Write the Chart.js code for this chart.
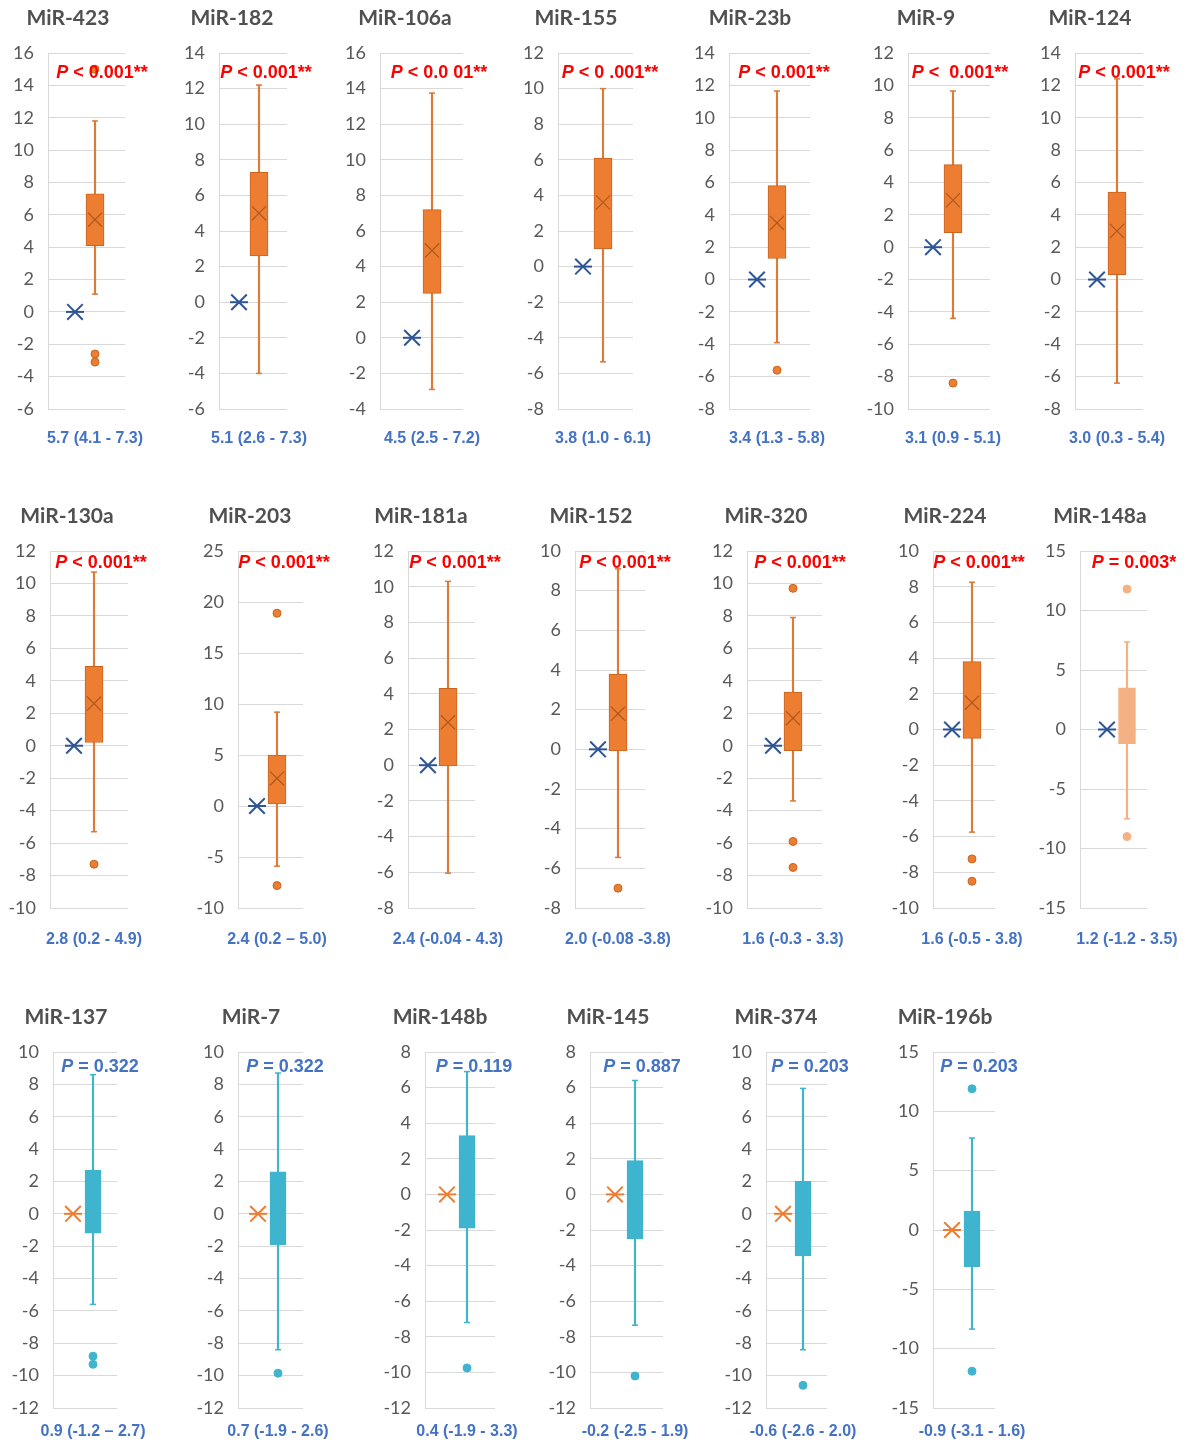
<!DOCTYPE html>
<html>
<head>
<meta charset="utf-8">
<script src="https://cdn.jsdelivr.net/npm/chart.js"></script>
<style>
  body { margin: 0; background: #fff; }
  #wrap { position: relative; width: 1197px; height: 1445px; overflow: hidden; }
  #wrap canvas { position: absolute; }
</style>
</head>
<body>
<div id="wrap"></div>
<script>
// miRNA panels, in reading order
const names = ['MiR-423', 'MiR-182', 'MiR-106a', 'MiR-155', 'MiR-23b', 'MiR-9', 'MiR-124',
    'MiR-130a', 'MiR-203', 'MiR-181a', 'MiR-152', 'MiR-320', 'MiR-224', 'MiR-148a',
    'MiR-137', 'MiR-7', 'MiR-148b', 'MiR-145', 'MiR-374', 'MiR-196b'];

// text after the italic "P"
const pTexts = ['< 0.001**', '< 0.001**', '< 0.0 01**', '< 0 .001**', '< 0.001**', '<  0.001**', '< 0.001**',
    '< 0.001**', '< 0.001**', '< 0.001**', '< 0.001**', '< 0.001**', '< 0.001**', '= 0.003*',
    '= 0.322', '= 0.322', '= 0.119', '= 0.887', '= 0.203', '= 0.203'];

// median (IQR) under each panel
const medianIqr = ['5.7 (4.1 - 7.3)', '5.1 (2.6 - 7.3)', '4.5 (2.5 - 7.2)', '3.8 (1.0 - 6.1)', '3.4 (1.3 - 5.8)', '3.1 (0.9 - 5.1)', '3.0 (0.3 - 5.4)',
    '2.8 (0.2 - 4.9)', '2.4 (0.2 \u2013 5.0)', '2.4 (-0.04 - 4.3)', '2.0 (-0.08 -3.8)', '1.6 (-0.3 - 3.3)', '1.6 (-0.5 - 3.8)', '1.2 (-1.2 - 3.5)',
    '0.9 (-1.2 \u2013 2.7)', '0.7 (-1.9 - 2.6)', '0.4 (-1.9 - 3.3)', '-0.2 (-2.5 - 1.9)', '-0.6 (-2.6 - 2.0)', '-0.9 (-3.1 - 1.6)'];

// 'up' = significant, 'weak' = P < 0.05, 'ns' = not significant
const groups = ['up', 'up', 'up', 'up', 'up', 'up', 'up',
    'up', 'up', 'up', 'up', 'up', 'up', 'weak',
    'ns', 'ns', 'ns', 'ns', 'ns', 'ns'];

const q1 = [4.1, 2.6, 2.5, 1.0, 1.3, 0.9, 0.3, 0.2, 0.2, -0.04, -0.08, -0.3, -0.5, -1.2, -1.2, -1.9, -1.9, -2.5, -2.6, -3.1];
const q3 = [7.3, 7.3, 7.2, 6.1, 5.8, 5.1, 5.4, 4.9, 5.0, 4.3, 3.8, 3.3, 3.8, 3.5, 2.7, 2.6, 3.3, 1.9, 2.0, 1.6];
const means = [5.7, 5.0, 4.9, 3.6, 3.5, 2.9, 3.0, 2.6, 2.7, 2.4, 1.8, 1.7, 1.5, null, null, null, null, null, null, null];
const whiskerLow = [1.1, -4.0, -2.9, -5.35, -3.9, -4.4, -6.4, -5.3, -5.9, -6.05, -5.45, -3.4, -5.75, -7.5, -5.6, -8.4, -7.2, -7.35, -8.4, -8.35];
const whiskerHigh = [11.8, 12.2, 13.75, 10.0, 11.65, 9.65, 12.4, 10.7, 9.2, 10.3, 9.1, 7.9, 8.25, 7.35, 8.6, 8.7, 6.9, 6.4, 7.75, 7.75];
const outliers = [[15.0, -2.6, -3.1], [], [], [], [-5.6], [-8.4], [],
    [-7.3], [18.9, -7.8], [], [-7.0], [9.7, -5.9, -7.5], [-7.25, -8.5], [11.8, -9.0],
    [-8.8, -9.3], [-9.85], [-9.75], [-10.2], [-10.6], [11.9, -11.9]];
const refValue = 0;

// y axis ticks
const yMin = [-6, -6, -4, -8, -8, -10, -8, -10, -10, -8, -8, -10, -10, -15, -12, -12, -12, -12, -12, -15];
const yMax = [16, 14, 16, 12, 14, 12, 14, 12, 25, 12, 10, 12, 10, 15, 10, 10, 8, 8, 10, 15];
const yStep = [2, 2, 2, 2, 2, 2, 2, 2, 5, 2, 2, 2, 2, 5, 2, 2, 2, 2, 2, 5];

// page layout (px): plot left/right edge and box centre of each panel
const panelLeft = [48, 219, 380, 558, 729, 908, 1075, 50, 238, 408, 575, 747, 933, 1080, 53, 238, 425, 590, 766, 933];
const panelRight = [125, 287, 463, 633, 810, 990, 1143, 128, 303, 475, 645, 822, 995, 1147, 117, 303, 495, 663, 827, 995];
const boxCenter = [95, 259, 432, 603, 777, 953, 1117, 94, 277, 448, 618, 793, 972, 1127, 93, 278, 467, 635, 803, 972];
const rows = [
    { plotTop: 53, plotBottom: 409, titleY: 18, pY: 73, labelY: 439 },
    { plotTop: 551, plotBottom: 908, titleY: 516, pY: 563, labelY: 940 },
    { plotTop: 1052, plotBottom: 1408, titleY: 1017, pY: 1067, labelY: 1432 }
];
const rowOf = i => (i < 7 ? 0 : i < 14 ? 1 : 2);

const styles = {
    up:   { fill: '#ED7D31', edge: '#C9641F', whisker: '#DC7A3A', mean: '#AD5820', ref: '#2F5597', box: 18, pColor: '#FF0000' },
    weak: { fill: '#F4B183', edge: '#F4B183', whisker: '#F4B183', mean: '#D9874F', ref: '#2F5597', box: 17, pColor: '#FF0000' },
    ns:   { fill: '#3FB4CE', edge: '#3FB4CE', whisker: '#3FB4CE', mean: '#2A8EA5', ref: '#ED7D31', box: 16, pColor: '#4472C4' }
};

const AXIS_W = 50;     // room for the tick labels
const PAD_RIGHT = 60;  // room for P text running past the plot
const UNIT = 20;       // px between the reference marker (x=1) and the box (x=2)

// panel name, P value and median (IQR) text, placed around the box centre
const panelText = {
    id: 'panelText',
    afterDraw(chart, args, opts) {
        const ctx = chart.ctx;
        const cx = chart.scales.x.getPixelForValue(2);
        ctx.save();
        ctx.textBaseline = 'middle';

        ctx.textAlign = 'center';
        ctx.fillStyle = '#505050';
        ctx.font = 'bold 21px Lato';
        ctx.fillText(opts.title, cx - 27, opts.titleY);

        const rest = ' ' + opts.p;
        ctx.font = 'italic bold 18px "Liberation Sans"';
        const pw = ctx.measureText('P').width;
        ctx.font = 'bold 18px "Liberation Sans"';
        const rw = ctx.measureText(rest).width;
        const left = cx + 7 - (pw + rw) / 2;
        ctx.textAlign = 'left';
        ctx.fillStyle = opts.pColor;
        ctx.font = 'italic bold 18px "Liberation Sans"';
        ctx.fillText('P', left, opts.pY);
        ctx.font = 'bold 18px "Liberation Sans"';
        ctx.fillText(rest, left + pw, opts.pY);

        ctx.textAlign = 'center';
        ctx.fillStyle = '#4472C4';
        ctx.font = 'bold 16px "Liberation Sans"';
        ctx.fillText(opts.label, cx, opts.labelY);
        ctx.restore();
    }
};

const wrap = document.getElementById('wrap');

names.forEach((name, i) => {
    const row = rows[rowOf(i)];
    const st = styles[groups[i]];
    const top = row.plotTop - 53;
    const height = row.labelY + 20 - top;
    const plotW = panelRight[i] - panelLeft[i];
    const width = AXIS_W + plotW + PAD_RIGHT;

    const canvas = document.createElement('canvas');
    canvas.width = width;
    canvas.height = height;
    canvas.style.left = (panelLeft[i] - AXIS_W) + 'px';
    canvas.style.top = top + 'px';
    wrap.appendChild(canvas);

    const xMin = 2 - (boxCenter[i] - panelLeft[i]) / UNIT;
    const xMax = xMin + plotW / UNIT;

    const datasets = [
        { type: 'scatter', data: [{ x: 1, y: refValue }], pointStyle: 'crossRot', pointRadius: 11,
          pointBorderColor: st.ref, pointBorderWidth: 2, order: 0 },
        { type: 'scatter', data: [{ x: 1, y: refValue }], pointStyle: 'line', pointRadius: 9,
          pointBorderColor: st.ref, pointBorderWidth: 2, order: 0 },
        { type: 'scatter', data: outliers[i].map(v => ({ x: 2, y: v })), pointStyle: 'circle', pointRadius: 4,
          pointBackgroundColor: st.fill, pointBorderColor: st.edge, pointBorderWidth: 1, order: 1 },
        { type: 'scatter', data: means[i] === null ? [] : [{ x: 2, y: means[i] }], pointStyle: 'crossRot', pointRadius: 10,
          pointBorderColor: st.mean, pointBorderWidth: 1.2, order: 2 },
        { type: 'scatter', data: [{ x: 2, y: whiskerLow[i] }, { x: 2, y: whiskerHigh[i] }], pointStyle: 'line', pointRadius: 3,
          pointBorderColor: st.whisker, pointBorderWidth: 1.5, order: 3 },
        { type: 'bar', data: [{ x: 2, y: [q1[i], q3[i]] }], backgroundColor: st.fill, borderColor: st.edge,
          borderWidth: 1, borderSkipped: false, barThickness: st.box, maxBarThickness: st.box, grouped: false, order: 4 },
        { type: 'bar', data: [{ x: 2, y: [whiskerLow[i], whiskerHigh[i]] }], backgroundColor: st.whisker,
          borderWidth: 0, barThickness: 1.5, maxBarThickness: 1.5, grouped: false, order: 5 }
    ];

    new Chart(canvas, {
        type: 'bar',
        data: { datasets: datasets },
        options: {
            responsive: false,
            animation: false,
            events: [],
            layout: {
                padding: { left: 0, right: PAD_RIGHT, top: 53, bottom: height - (row.plotBottom - top) }
            },
            scales: {
                x: {
                    type: 'linear',
                    display: false,
                    offset: false,
                    min: xMin,
                    max: xMax,
                    ticks: { count: 2 }
                },
                y: {
                    type: 'linear',
                    min: yMin[i],
                    max: yMax[i],
                    afterFit: scale => { scale.width = AXIS_W; },
                    ticks: {
                        stepSize: yStep[i],
                        padding: 14,
                        color: '#595959',
                        font: { family: 'Lato', size: 18 }
                    },
                    grid: { color: '#D9D9D9', lineWidth: 1, drawTicks: false },
                    border: { display: true, color: '#D9D9D9' }
                }
            },
            plugins: {
                legend: { display: false },
                tooltip: { enabled: false },
                panelText: {
                    title: name,
                    p: pTexts[i],
                    pColor: st.pColor,
                    label: medianIqr[i],
                    titleY: row.titleY - top,
                    pY: row.pY - top,
                    labelY: row.labelY - top
                }
            }
        },
        plugins: [panelText]
    });
});
</script>
</body>
</html>
